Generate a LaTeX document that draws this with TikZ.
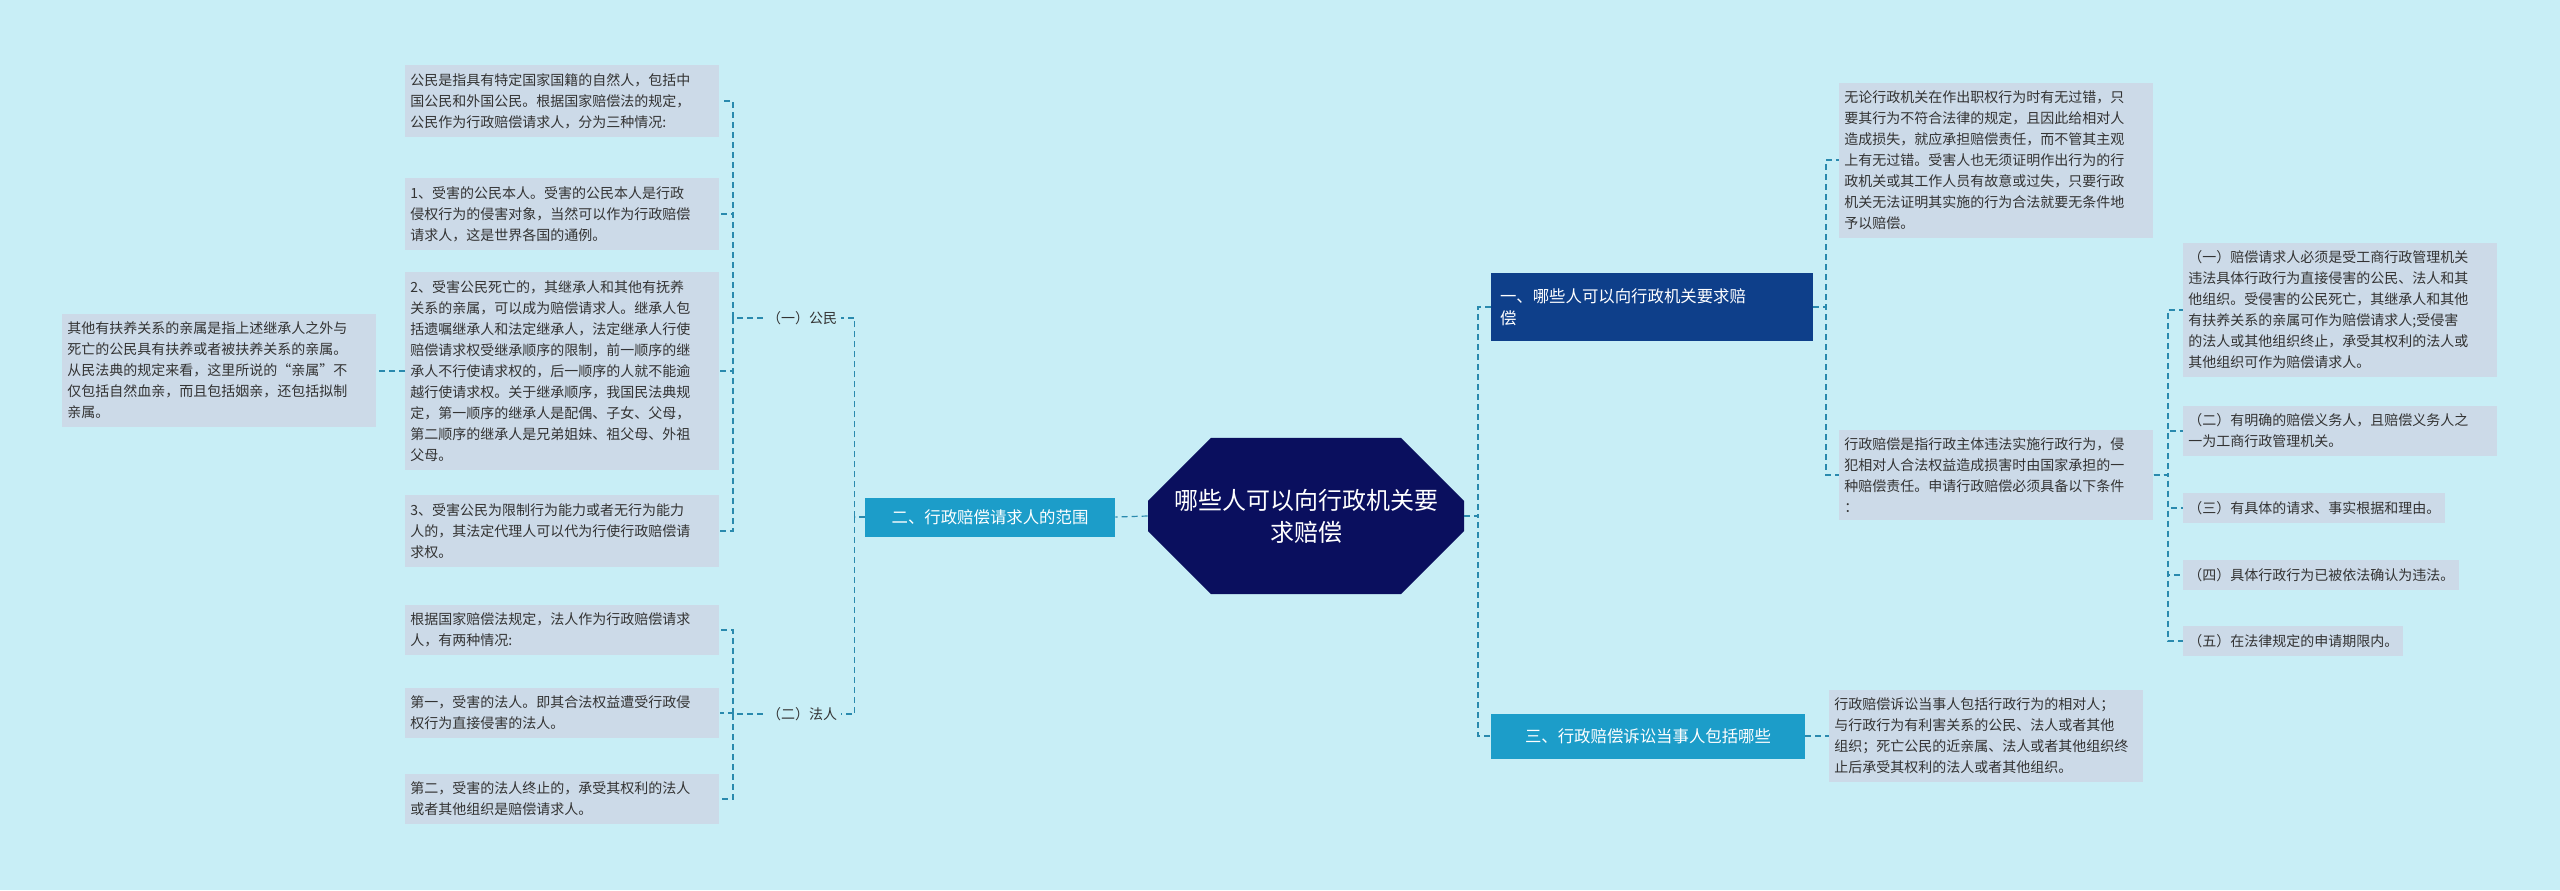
\documentclass[tikz,border=0pt]{standalone}
\usepackage{fontspec}
\setmainfont{Noto Sans CJK SC}
\usetikzlibrary{shapes.misc}
\definecolor{bgc}{HTML}{C8EEF6}
\definecolor{leafc}{HTML}{CCDAE8}
\definecolor{linec}{HTML}{2A8AAE}
\definecolor{navy}{HTML}{0A0F5E}
\definecolor{blue2}{HTML}{0E3F8A}
\definecolor{teal2}{HTML}{1C9DC9}
\definecolor{txt}{HTML}{333333}
\begin{document}
\begin{tikzpicture}[x=0.5pt,y=-0.5pt,
 leafbase/.style={fill=leafc,anchor=west,inner xsep=2.5pt,inner ysep=4pt,align=left,text=txt,font=\fontsize{7}{10.5}\selectfont},
 leaf/.style={leafbase,text width=152pt},
 lbl/.style={text=txt,font=\fontsize{7}{10}\selectfont,inner sep=2pt},
 br/.style={text=white,font=\fontsize{8.2}{11}\selectfont,align=left,inner xsep=4pt},
 conn/.style={draw=linec,dashed,dash pattern=on 3pt off 2pt,line width=0.6pt}]
\fill[bgc] (0,0) rectangle (2560,890);
\useasboundingbox (0,0) rectangle (2560,890);
% center
\node[chamfered rectangle,chamfered rectangle xsep=8pt,chamfered rectangle ysep=23.5pt,chamfered rectangle corners={north west,south west,north east,south east},fill=navy,text=white,minimum width=158pt,minimum height=47pt,inner sep=2pt,align=center,font=\fontsize{12}{16}\selectfont] (c) at (1306,516) {哪些人可以向行政机关要\\求赔偿};
% left
\node[br,fill=teal2,minimum width=125pt,minimum height=19.5pt,align=center] (L) at (990,517) {二、行政赔偿请求人的范围};
\node[lbl] (g1) at (802,318) {（一）公民};
\node[lbl] (g2) at (802,714) {（二）法人};
\node[leaf] (l1) at (405,101) {公民是指具有特定国家国籍的自然人，包括中\\国公民和外国公民。根据国家赔偿法的规定，\\公民作为行政赔偿请求人，分为三种情况:};
\node[leaf] (l2) at (405,214) {1、受害的公民本人。受害的公民本人是行政\\侵权行为的侵害对象，当然可以作为行政赔偿\\请求人，这是世界各国的通例。};
\node[leaf] (l3) at (405,371) {2、受害公民死亡的，其继承人和其他有抚养\\关系的亲属，可以成为赔偿请求人。继承人包\\括遗嘱继承人和法定继承人，法定继承人行使\\赔偿请求权受继承顺序的限制，前一顺序的继\\承人不行使请求权的，后一顺序的人就不能逾\\越行使请求权。关于继承顺序，我国民法典规\\定，第一顺序的继承人是配偶、子女、父母，\\第二顺序的继承人是兄弟姐妹、祖父母、外祖\\父母。};
\node[leaf] (l4) at (405,531) {3、受害公民为限制行为能力或者无行为能力\\人的，其法定代理人可以代为行使行政赔偿请\\求权。};
\node[leaf] (far) at (62,370) {其他有扶养关系的亲属是指上述继承人之外与\\死亡的公民具有扶养或者被扶养关系的亲属。\\从民法典的规定来看，这里所说的“亲属”不\\仅包括自然血亲，而且包括姻亲，还包括拟制\\亲属。};
\node[leaf] (m1) at (405,630) {根据国家赔偿法规定，法人作为行政赔偿请求\\人，有两种情况:};
\node[leaf] (m2) at (405,713) {第一，受害的法人。即其合法权益遭受行政侵\\权行为直接侵害的法人。};
\node[leaf] (m3) at (405,799) {第二，受害的法人终止的，承受其权利的法人\\或者其他组织是赔偿请求人。};
% right
\node[br,fill=blue2,minimum width=161pt,minimum height=34pt,text width=152pt] (R1) at (1652,307) {一、哪些人可以向行政机关要求赔\\偿};
\node[br,fill=teal2,minimum width=157pt,minimum height=22.5pt] (R3) at (1648,736) {三、行政赔偿诉讼当事人包括哪些};
\node[leaf] (ra) at (1839,160) {无论行政机关在作出职权行为时有无过错，只\\要其行为不符合法律的规定，且因此给相对人\\造成损失，就应承担赔偿责任，而不管其主观\\上有无过错。受害人也无须证明作出行为的行\\政机关或其工作人员有故意或过失，只要行政\\机关无法证明其实施的行为合法就要无条件地\\予以赔偿。};
\node[leaf] (rb) at (1839,475) {行政赔偿是指行政主体违法实施行政行为，侵\\犯相对人合法权益造成损害时由国家承担的一\\种赔偿责任。申请行政赔偿必须具备以下条件\\：};
\node[leaf] (s1) at (2183,310) {（一）赔偿请求人必须是受工商行政管理机关\\违法具体行政行为直接侵害的公民、法人和其\\他组织。受侵害的公民死亡，其继承人和其他\\有扶养关系的亲属可作为赔偿请求人;受侵害\\的法人或其他组织终止，承受其权利的法人或\\其他组织可作为赔偿请求人。};
\node[leaf] (s2) at (2183,431) {（二）有明确的赔偿义务人，且赔偿义务人之\\一为工商行政管理机关。};
\node[leafbase] (s3) at (2183,508) {（三）有具体的请求、事实根据和理由。};
\node[leafbase] (s4) at (2183,575) {（四）具体行政行为已被依法确认为违法。};
\node[leafbase] (s5) at (2183,641) {（五）在法律规定的申请期限内。};
\node[leaf] (t) at (1829,736) {行政赔偿诉讼当事人包括行政行为的相对人；\\与行政行为有利害关系的公民、法人或者其他\\组织；死亡公民的近亲属、法人或者其他组织终\\止后承受其权利的法人或者其他组织。};
% connectors
\draw[conn] (c.west) -- (L.east);
\foreach \n in {g1,g2} \draw[conn] (L.west) -- ++(-10,0) |- (\n.east);
\foreach \n in {l1,l2,l3,l4} \draw[conn] (g1.west) -- (733,318) |- (\n.east);
\foreach \n in {m1,m2,m3} \draw[conn] (g2.west) -- (733,714) |- (\n.east);
\draw[conn] (l3.west) -- (far.east|-l3.west);
\foreach \n in {R1,R3} \draw[conn] (c.east) -- (1478,516) |- (\n.west);
\foreach \n in {ra,rb} \draw[conn] (R1.east) -- (1826,307) |- (\n.west);
\foreach \n in {s1,s2,s3,s4,s5} \draw[conn] (rb.east) -- (2168,475) |- (\n.west);
\draw[conn] (R3.east) -- (t.west);
\end{tikzpicture}
\end{document}
